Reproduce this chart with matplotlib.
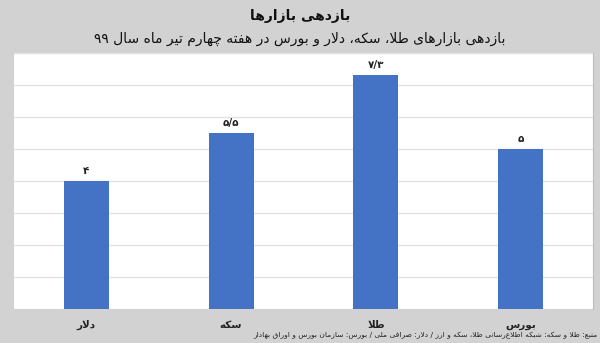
import matplotlib
matplotlib.use("Agg")
import matplotlib.pyplot as plt

# ---------------- data ----------------
categories = ["دلار", "سکه", "طلا", "بورس"]
values = [4.0, 5.5, 7.3, 5.0]
value_labels = ["۴", "۵/۵", "۷/۳", "۵"]
title = "بازدهی بازارها"
subtitle = "بازدهی بازارهای طلا، سکه، دلار و بورس در هفته چهارم تیر ماه سال ۹۹"
source = "منبع: طلا و سکه: شبکه اطلاع\u200cرسانی طلا، سکه و ارز / دلار: صرافی ملی / بورس: سازمان بورس و اوراق بهادار"

# ------------- minimal Persian shaping (no raqm in matplotlib) -------------
FORMS = {  # isolated, final, initial, medial
    "ا": ("\uFE8D", "\uFE8E", None, None), "آ": ("\uFE81", "\uFE82", None, None),
    "ب": ("\uFE8F", "\uFE90", "\uFE91", "\uFE92"), "پ": ("\uFB56", "\uFB57", "\uFB58", "\uFB59"),
    "ت": ("\uFE95", "\uFE96", "\uFE97", "\uFE98"), "ث": ("\uFE99", "\uFE9A", "\uFE9B", "\uFE9C"),
    "ج": ("\uFE9D", "\uFE9E", "\uFE9F", "\uFEA0"), "چ": ("\uFB7A", "\uFB7B", "\uFB7C", "\uFB7D"),
    "ح": ("\uFEA1", "\uFEA2", "\uFEA3", "\uFEA4"), "خ": ("\uFEA5", "\uFEA6", "\uFEA7", "\uFEA8"),
    "د": ("\uFEA9", "\uFEAA", None, None), "ذ": ("\uFEAB", "\uFEAC", None, None),
    "ر": ("\uFEAD", "\uFEAE", None, None), "ز": ("\uFEAF", "\uFEB0", None, None),
    "ژ": ("\uFB8A", "\uFB8B", None, None),
    "س": ("\uFEB1", "\uFEB2", "\uFEB3", "\uFEB4"), "ش": ("\uFEB5", "\uFEB6", "\uFEB7", "\uFEB8"),
    "ص": ("\uFEB9", "\uFEBA", "\uFEBB", "\uFEBC"), "ض": ("\uFEBD", "\uFEBE", "\uFEBF", "\uFEC0"),
    "ط": ("\uFEC1", "\uFEC2", "\uFEC3", "\uFEC4"), "ظ": ("\uFEC5", "\uFEC6", "\uFEC7", "\uFEC8"),
    "ع": ("\uFEC9", "\uFECA", "\uFECB", "\uFECC"), "غ": ("\uFECD", "\uFECE", "\uFECF", "\uFED0"),
    "ف": ("\uFED1", "\uFED2", "\uFED3", "\uFED4"), "ق": ("\uFED5", "\uFED6", "\uFED7", "\uFED8"),
    "ک": ("\uFB8E", "\uFB8F", "\uFB90", "\uFB91"), "گ": ("\uFB92", "\uFB93", "\uFB94", "\uFB95"),
    "ل": ("\uFEDD", "\uFEDE", "\uFEDF", "\uFEE0"), "م": ("\uFEE1", "\uFEE2", "\uFEE3", "\uFEE4"),
    "ن": ("\uFEE5", "\uFEE6", "\uFEE7", "\uFEE8"), "ه": ("\uFEE9", "\uFEEA", "\uFEEB", "\uFEEC"),
    "و": ("\uFEED", "\uFEEE", None, None), "ی": ("\uFBFC", "\uFBFD", "\uFBFE", "\uFBFF"),
}


def dual(c):
    return c in FORMS and FORMS[c][2] is not None


def joins(c):
    return c in FORMS


def shape(text):
    out = []
    chars = list(text)
    i = 0
    n = len(chars)
    while i < n:
        c = chars[i]
        if c not in FORMS:
            if c != "\u200c":
                out.append(c)
            i += 1
            continue
        prev = chars[i - 1] if i > 0 else ""
        cp = dual(prev)
        if c == "ل" and i + 1 < n and chars[i + 1] in ("ا", "آ"):
            if chars[i + 1] == "ا":
                out.append("\uFEFC" if cp else "\uFEFB")
            else:
                out.append("\uFEF6" if cp else "\uFEF5")
            i += 2
            continue
        nxt = chars[i + 1] if i + 1 < n else ""
        cn = dual(c) and joins(nxt)
        iso, fin, ini, med = FORMS[c]
        if cp and cn:
            out.append(med)
        elif cp:
            out.append(fin)
        elif cn:
            out.append(ini)
        else:
            out.append(iso)
        i += 1
    s = "".join(out)[::-1]
    # restore left-to-right order of digit runs
    res, run = [], []
    digits = set("0123456789۰۱۲۳۴۵۶۷۸۹.")
    for ch in s:
        if ch in digits or (ch == "/" and run):
            run.append(ch)
        else:
            res.extend(run[::-1])
            run = []
            res.append(ch)
    res.extend(run[::-1])
    return "".join(res)


plt.rcParams["font.family"] = ["DejaVu Sans"]

BG = "#d3d2d3"
BAR = "#4472c4"

fig = plt.figure(figsize=(6.0, 3.43), dpi=100, facecolor=BG)
ax = fig.add_axes([14 / 600, 1 - 309 / 343, (593 - 14) / 600, (309 - 53) / 343])
ax.set_facecolor("white")

x = list(range(len(categories)))
ax.bar(x, values, width=0.31, color=BAR, zorder=3)
ax.set_xlim(-0.5, len(categories) - 0.5)
ax.set_ylim(0, 8)
ax.set_yticks(range(0, 9))
ax.yaxis.grid(True, color="#e3e3e3", linewidth=1.0, zorder=0)
ax.tick_params(axis="y", length=0, labelleft=False)
ax.tick_params(axis="x", length=0, pad=8)
ax.set_xticks(x)
ax.set_xticklabels([shape(c) for c in categories], fontsize=7.5, fontweight="bold", color="#222222")
for sp in ax.spines.values():
    sp.set_visible(False)
ax.spines["right"].set_visible(True)
ax.spines["right"].set_color("#bdbdbd")

for xi, v, lab in zip(x, values, value_labels):
    ax.annotate(lab, (xi, v), xytext=(0, 7.5), textcoords="offset points",
                ha="center", va="center", fontsize=7.5, fontweight="bold", color="#222222")

fig.text(0.5, 1 - 16 / 343, shape(title), ha="center", va="center", fontsize=10, fontweight="bold", color="#111111")
fig.text(0.5, 1 - 39 / 343, shape(subtitle), ha="center", va="center", fontsize=10, color="#111111")
fig.text(598 / 600, 1 - 335 / 343, shape(source), ha="right", va="center", fontsize=5.4, color="#222222")

fig.savefig("out.png", dpi=100, facecolor=BG)
